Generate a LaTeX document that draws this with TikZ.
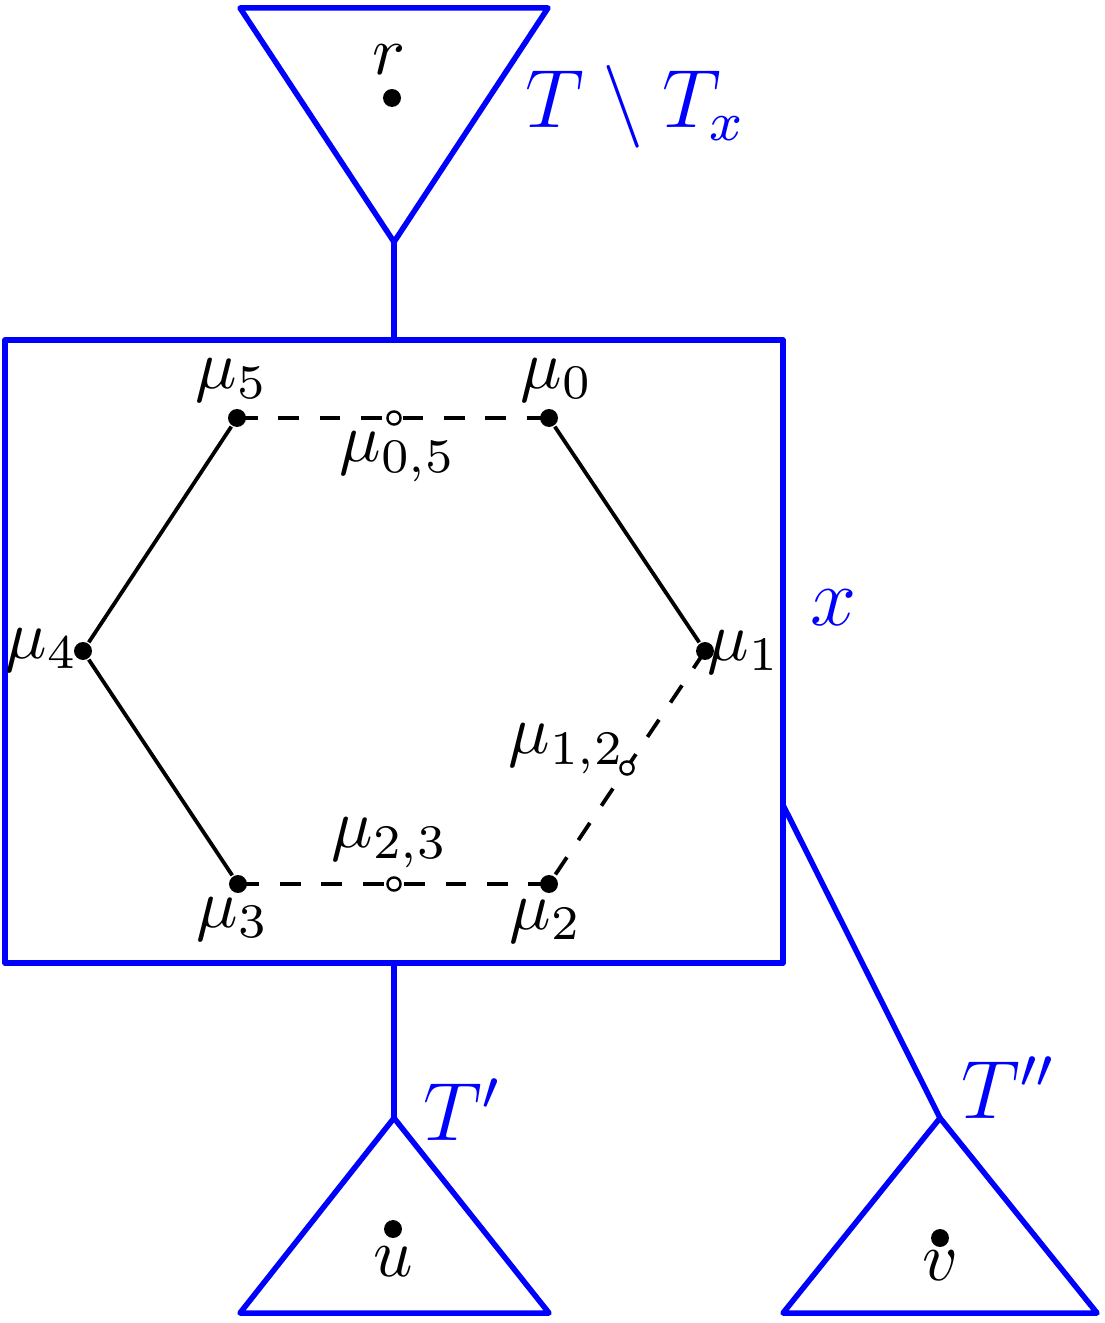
\documentclass[tikz,border=0pt]{standalone}
\begin{document}
\begin{tikzpicture}[x=0.145pt,y=-0.145pt,
  tree/.style={draw=blue,line width=0.8pt,line join=round},
  hexline/.style={draw=black,line width=0.55pt},
  hexdash/.style={draw=black,line width=0.55pt,dashed},
  dot/.style={circle,fill=black,inner sep=0pt,minimum size=2.6pt},
  odot/.style={circle,draw=black,fill=white,line width=0.35pt,inner sep=0pt,minimum size=1.9pt},
  lbl/.style={inner sep=0pt,anchor=center},
  blbl/.style={inner sep=0pt,text=blue,font=\large}]
\useasboundingbox (0,0) rectangle (1104,1323);
% top tree
\coordinate (ta) at (240,8);
\coordinate (tb) at (548,8);
\coordinate (tc) at (394,242);
\draw[tree] (ta) -- (tb) -- (tc) -- cycle;
\coordinate (btop) at (394,340);
\draw[tree] (tc) -- (btop);
% box x
\draw[tree] (5,340) rectangle (783,963);
% bottom trees
\coordinate (bbot) at (394,963);
\coordinate (ua) at (394,1118);
\coordinate (ub) at (240,1313);
\coordinate (uc) at (549,1313);
\draw[tree] (bbot) -- (ua);
\draw[tree] (ua) -- (ub) -- (uc) -- cycle;
\coordinate (bright) at (783,805);
\coordinate (va) at (940,1118);
\coordinate (vb) at (783,1313);
\coordinate (vc) at (1097,1313);
\draw[tree] (bright) -- (va);
\draw[tree] (va) -- (vb) -- (vc) -- cycle;
% hexagon
\node[dot] (m0) at (549,418) {};
\node[dot] (m1) at (705,651) {};
\node[dot] (m2) at (549,884) {};
\node[dot] (m3) at (238,884) {};
\node[dot] (m4) at (83,651) {};
\node[dot] (m5) at (237,418) {};
\draw[hexline] (m0) -- (m1);
\draw[hexline] (m3) -- (m4) -- (m5);
\draw[hexdash] (m5.center) -- (m0.center);
\draw[hexdash] (m1.center) -- (m2.center);
\draw[hexdash] (m2.center) -- (m3.center);
\node[odot] (m05) at (394,418) {};
\node[odot] (m12) at (627,768) {};
\node[odot] (m23) at (394,884) {};
\node[dot] (r) at (392,98) {};
\node[dot] (u) at (393,1229) {};
\node[dot] (v) at (940,1238) {};
% labels
\node[lbl] (lr) at (389,60) {$r$};
\node[lbl] (lu) at (393,1262) {$u$};
\node[lbl] (lv) at (940,1266) {$v$};
\node[lbl] (l5) at (232,380) {$\mu_5$};
\node[lbl] (l0) at (557,380) {$\mu_0$};
\node[lbl] (l05) at (398,457) {$\mu_{0,5}$};
\node[lbl] (l4) at (42,650) {$\mu_4$};
\node[lbl] (l1) at (744,652) {$\mu_1$};
\node[lbl] (l12) at (567,749) {$\mu_{1,2}$};
\node[lbl] (l23) at (390,843) {$\mu_{2,3}$};
\node[lbl] (l3) at (233,919) {$\mu_3$};
\node[lbl] (l2) at (546,921) {$\mu_2$};
\node[blbl,anchor=base west] (lT) at (524,128) {$T\setminus T_x$};
\node[blbl,anchor=center] (lx) at (833,608) {$x$};
\node[blbl,anchor=base west] (lT1) at (422,1140) {$T'$};
\node[blbl,anchor=base west] (lT2) at (960,1118) {$T''$};
\end{tikzpicture}
\end{document}
